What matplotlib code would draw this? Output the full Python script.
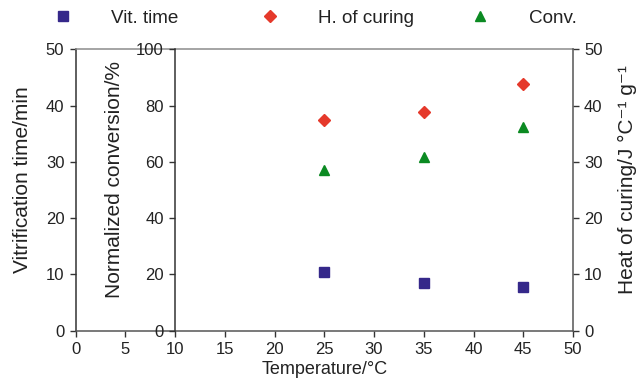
import matplotlib
matplotlib.use('Agg')
import matplotlib.pyplot as plt
from matplotlib.lines import Line2D

plt.rcParams['font.family'] = ['Liberation Sans', 'DejaVu Sans']

# data
temperature = [25, 35, 45]
vit_time = [10.4, 8.4, 7.8]          # min, left axis
heat_curing = [37.5, 38.9, 43.8]     # J/(C g), right axis
conversion = [57.0, 61.7, 72.2]      # %, inner axis at T=10

x_ticks = [0, 5, 10, 15, 20, 25, 30, 35, 40, 45, 50]
left_ticks = [0, 10, 20, 30, 40, 50]
conv_ticks = [0, 20, 40, 60, 80, 100]

blue = '#35288a'
red = '#e5392b'
green = '#0b8a22'
dark = '#333333'
grey = '#8c8c8c'
txt = '#222222'

fig = plt.figure(figsize=(6.38, 3.91), dpi=100)
ax = fig.add_axes([75.5 / 638, 1 - 330.7 / 391, (573 - 75.5) / 638, (330.7 - 49.2) / 391])
ax2 = ax.twinx()
ax3 = ax.twinx()

ax.set_xlim(0, 50)
ax.set_ylim(0, 50)
ax.set_xticks(x_ticks)
ax.set_yticks(left_ticks)
ax2.set_ylim(0, 100)
ax2.set_yticks(conv_ticks)
ax3.set_ylim(0, 50)
ax3.set_yticks(left_ticks)

# spines
for a in (ax, ax2, ax3):
    for s in a.spines.values():
        s.set_visible(False)
ax.spines['left'].set_visible(True)
ax.spines['left'].set_color(dark)
ax.spines['bottom'].set_visible(True)
ax.spines['bottom'].set_color('#555555')
ax.spines['top'].set_visible(True)
ax.spines['top'].set_color(grey)
ax2.spines['left'].set_visible(True)
ax2.spines['left'].set_position(('data', 10))
ax2.spines['left'].set_color(dark)
ax2.yaxis.set_ticks_position('left')
ax2.yaxis.set_label_position('left')
ax3.spines['right'].set_visible(True)
ax3.spines['right'].set_color('#555555')
for a in (ax, ax2, ax3):
    for s in a.spines.values():
        s.set_linewidth(1.1)
    a.tick_params(length=4, width=1, color=dark, labelsize=12, labelcolor=txt, pad=4)

ax.plot(temperature, vit_time, 's', color=blue, markersize=7, zorder=5)
ax3.plot(temperature, heat_curing, 'D', color=red, markersize=6, zorder=5)
ax2.plot(temperature, conversion, '^', color=green, markersize=7.5, zorder=5)

ax.set_xlabel('Temperature/°C', fontsize=13, color=txt, labelpad=3)
ax.set_ylabel('Vitrification time/min', fontsize=15, color=txt)
ax2.set_ylabel('Normalized conversion/%', fontsize=15, color=txt)
ax3.set_ylabel('Heat of curing/J °C⁻¹ g⁻¹', fontsize=15, color=txt)
ax.yaxis.set_label_coords(-0.088, 0.536)
ax2.yaxis.set_label_coords(0.098, 0.536)
ax3.yaxis.set_label_coords(1.0905, 0.536)

# legend: three evenly spaced entries along the top
entries = [('s', blue, 7, 'Vit. time'), ('D', red, 6, 'H. of curing'), ('^', green, 7.5, 'Conv.')]
starts = [53.5, 260.5, 471]
for (m, c, ms, lab), x0 in zip(entries, starts):
    h = Line2D([], [], linestyle='none', marker=m, color=c, markersize=ms)
    fig.legend([h], [lab], loc='center left', bbox_to_anchor=(x0 / 638, 1 - 18.5 / 391),
               frameon=False, fontsize=13.6, handlelength=1, handletextpad=2.05,
               borderpad=0, borderaxespad=0, labelcolor=txt)

fig.savefig('out.png', dpi=100)
